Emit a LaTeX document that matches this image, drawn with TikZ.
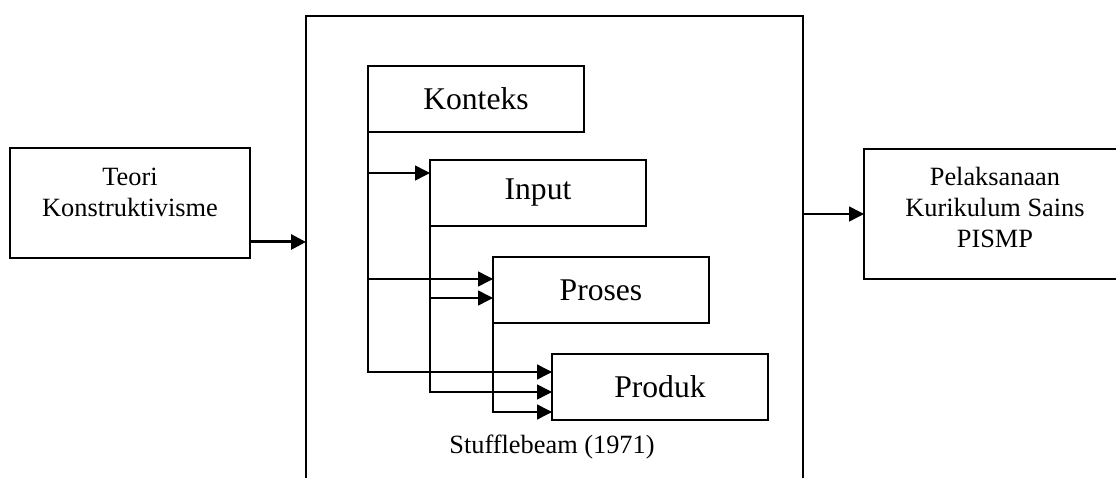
\documentclass[tikz,border=0pt]{standalone}
\usepackage{fontspec}
\setmainfont{Liberation Serif}
\usetikzlibrary{positioning, calc}
\usetikzlibrary{arrows.meta}
\tikzstyle{plainbox}=[rectangle, draw=black, line width=0.85pt, inner sep=0pt, outer sep=0pt, anchor=north west]
\tikzstyle{stagebox}=[plainbox, minimum width=4.32cm, minimum height=1.32cm, font=\fontsize{18}{21}\selectfont]
\tikzstyle{sidetext}=[font=\fontsize{15}{17.5}\selectfont, align=center, inner sep=0pt]
\tikzstyle{edgepath}=[-{Triangle[length=0.3cm,width=0.3cm]}, line width=0.85pt]
\tikzstyle{thickpath}=[edgepath, line width=1.7pt]

\begin{document}
\begin{tikzpicture}[x=0.02cm, y=-0.02cm]
    \useasboundingbox (0,0) rectangle (1116,477);
    \clip (0,0) rectangle (1116,477);

    % outer boxes
    \node[plainbox, minimum width=4.8cm, minimum height=2.2cm,
        label={[sidetext, anchor=north, yshift=-0.4cm]north:Teori\\Konstruktivisme}] (teori) at (10,148) {};
    \node[plainbox, minimum width=9.94cm, minimum height=9.8cm] (model) at (306,16) {};
    \node[plainbox, minimum width=5.24cm, minimum height=2.6cm,
        label={[sidetext, anchor=north, yshift=-0.36cm]north:Pelaksanaan\\Kurikulum Sains\\PISMP}] (pelak) at (864,149) {};
    \node[sidetext] (sumber) at (552,447) {Stufflebeam (1971)};

    % CIPP stages
    \node[stagebox] (konteks) at (368,66) {Konteks};
    \node[stagebox] (input) at (430,160) {Input};
    \node[stagebox] (proses) at (493,257) {Proses};
    \node[stagebox] (produk) at (552,354) {Produk};

    \coordinate (in1) at ([yshift=-0.26cm]input.north west);
    \coordinate (pr1) at ([yshift=-0.44cm]proses.north west);
    \coordinate (pr2) at ([yshift=-0.82cm]proses.north west);
    \coordinate (pd1) at ([yshift=-0.36cm]produk.north west);
    \coordinate (pd2) at ([yshift=-0.76cm]produk.north west);
    \coordinate (pd3) at ([yshift=-1.16cm]produk.north west);
    \coordinate (t1) at ([yshift=0.32cm]teori.south east);

    \draw[edgepath] (konteks.south west) |- (pd1);
    \draw[edgepath] (konteks.south west |- in1) -- (in1);
    \draw[edgepath] (konteks.south west |- pr1) -- (pr1);
    \draw[edgepath] (input.south west) |- (pd2);
    \draw[edgepath] (input.south west |- pr2) -- (pr2);
    \draw[edgepath] (proses.south west) |- (pd3);

    \draw[thickpath] (t1) -- (model.west |- t1);
    \draw[edgepath] (model.east |- pelak.west) -- (pelak.west);
\end{tikzpicture}
\end{document}
